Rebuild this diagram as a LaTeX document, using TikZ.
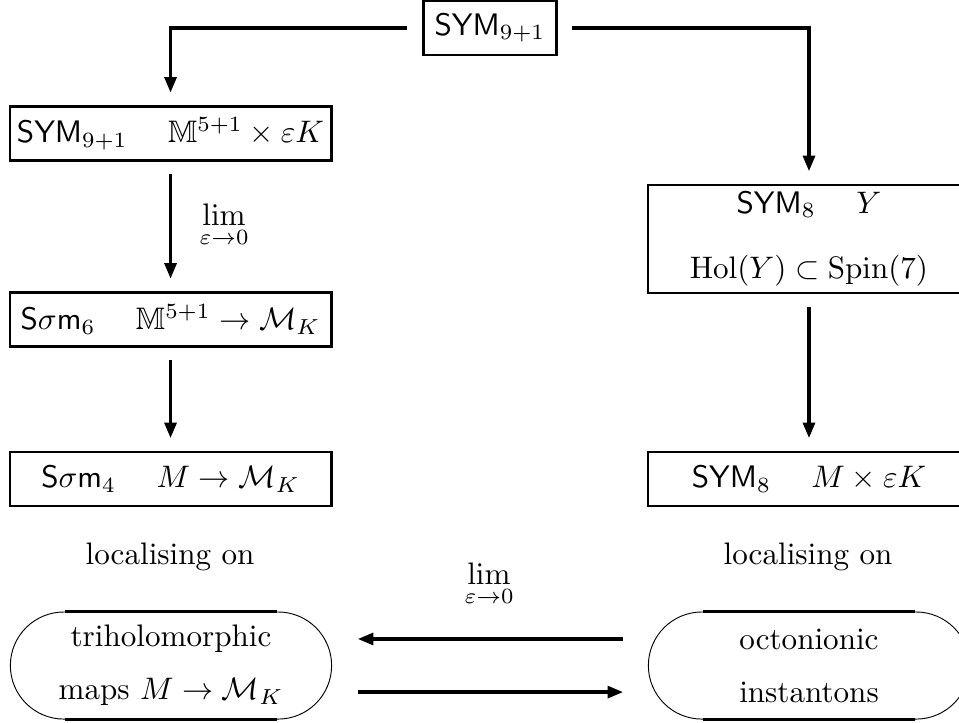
\documentclass[tikz,border=0pt]{standalone}
\usepackage{amssymb}
\usetikzlibrary{arrows.meta,shapes.misc}

\newcommand{\symgap}{\hspace{13pt}}

\begin{document}
\begin{tikzpicture}[box/.style={draw,line width=0.9pt,inner sep=0pt,minimum height=0.61cm},
    pill/.style={rounded rectangle,draw,line width=0.3pt,inner sep=0pt,minimum width=3.63cm,minimum height=1.21cm,align=center},
    arr/.style={line width=1.1pt,-{Triangle[length=5pt,width=3.8pt]},shorten <=0.14cm,shorten >=0.14cm}]
  \useasboundingbox (0,0) rectangle (10.836,-8.169);
  \node[box,minimum width=1.51cm] (sym) at (5.537,-0.316) {$\mathsf{SYM}_{9+1}$};
  \node[box,minimum width=3.63cm] (symA) at (1.927,-1.508) {$\mathsf{SYM}_{9+1}\symgap\mathbb{M}^{5+1}\times\varepsilon K$};
  \node[box,minimum width=3.63cm] (sigA) at (1.927,-3.610) {$\mathsf{S}\sigma\mathsf{m}_6\symgap\mathbb{M}^{5+1}\to\mathcal{M}_K$};
  \node[box,minimum width=3.63cm] (sigB) at (1.927,-5.412) {$\mathsf{S}\sigma\mathsf{m}_4\symgap M\to\mathcal{M}_K$};
  \node[box,minimum width=3.64cm,minimum height=1.22cm,align=center] (symY) at (9.141,-2.701) {$\mathsf{SYM}_8\symgap Y$\\[9pt]$\mathrm{Hol}(Y)\subset\mathrm{Spin}(7)$};
  \node[box,minimum width=3.64cm] (symB) at (9.141,-5.412) {$\mathsf{SYM}_8\symgap M\times\varepsilon K$};
  \node (locA) at (1.921,-6.294) {localising on};
  \node (locB) at (9.13,-6.294) {localising on};
  \node[pill] (tri) at (1.932,-7.52) {triholomorphic\\[5pt]maps $M\to\mathcal{M}_K$};
  \node[pill] (octo) at (9.141,-7.52) {octonionic\\[5pt]instantons};
  \node (limA) at (2.531,-2.554) {$\displaystyle\lim_{\varepsilon\to0}$};
  \node (limB) at (5.525,-6.61) {$\displaystyle\lim_{\varepsilon\to0}$};
  \foreach \n in {tri,octo}
    \foreach \s in {north,south}
      \draw[line width=0.9pt] ([xshift=-1.2cm]\n.\s) to ([xshift=1.2cm]\n.\s);
  \draw[arr,shorten <=0.17cm] (sym.west) -| (symA.north);
  \draw[arr,shorten <=0.15cm] (sym.east) -| (symY.north);
  \draw[arr] (symA) to (sigA);
  \draw[arr] (sigA) to (sigB);
  \draw[arr] (symY) to (symB);
  \draw[arr,shorten <=0.28cm,shorten >=0.29cm] ([yshift=0.3cm]octo.west) to ([yshift=0.3cm]tri.east);
  \draw[arr,shorten <=0.29cm,shorten >=0.28cm] ([yshift=-0.3cm]tri.east) to ([yshift=-0.3cm]octo.west);
\end{tikzpicture}
\end{document}
